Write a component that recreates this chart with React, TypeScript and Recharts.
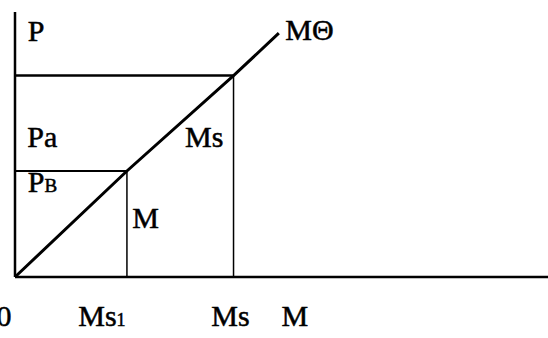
import { ComposedChart, Line, XAxis, YAxis, ReferenceLine, ReferenceDot } from "recharts";

// money supply line M0 (points along the straight line)
const lineM = [0, 21, 41, 49.5];
const lineP = [0, 40, 76, 92];

const ms1 = 21;
const ms = 41;
const pb = 40;
const pa = 76;

const axisTicks = [0, 21, 41, 52.5];
const axisLabels = ["0", "Ms1", "Ms", "M"];

const data = lineM.map((m, i) => ({ m, p: lineP[i] }));

const serif = "'Times New Roman', 'Liberation Serif', 'DejaVu Serif', serif";
const tickShift = [-11, -25, -3, 0];

function AxisTick(props: any) {
  const { x, y, payload } = props;
  const i = axisTicks.indexOf(payload.value);
  const label = axisLabels[i];
  return (
    <text x={x + tickShift[i]} y={y + 41} textAnchor="middle" fontFamily={serif} fontSize={30} fill="#000" stroke="#000" strokeWidth={0.5}>
      {label === "Ms1" ? (
        <>
          Ms<tspan fontSize={18}>1</tspan>
        </>
      ) : (
        label
      )}
    </text>
  );
}

const textAt = (content: any) => (p: any) => (
  <text x={p.cx} y={p.cy} fontFamily={serif} fontSize={30} fill="#000" stroke="#000" strokeWidth={0.5}>
    {content}
  </text>
);

export default function App() {
  return (
    <div style={{ position: "absolute", left: 0, top: 0 }}>
      <ComposedChart width={548} height={338} data={data} margin={{ top: 12, right: 0, left: 0, bottom: 0 }}>
        <XAxis
          dataKey="m"
          type="number"
          domain={[0, 100]}
          ticks={axisTicks}
          interval={0}
          tickLine={false}
          tick={<AxisTick />}
          height={61}
          axisLine={{ stroke: "#000", strokeWidth: 2.5 }}
        />
        <YAxis type="number" domain={[0, 100]} tick={false} tickLine={false} width={15} axisLine={{ stroke: "#000", strokeWidth: 2.5 }} />
        <ReferenceLine segment={[{ x: 0, y: pa }, { x: ms, y: pa }]} stroke="#000" strokeWidth={2.5} />
        <ReferenceLine segment={[{ x: ms, y: 0 }, { x: ms, y: pa }]} stroke="#000" strokeWidth={1.5} />
        <ReferenceLine segment={[{ x: 0, y: pb }, { x: ms1, y: pb }]} stroke="#000" strokeWidth={2} />
        <ReferenceLine segment={[{ x: ms1, y: 0 }, { x: ms1, y: pb }]} stroke="#000" strokeWidth={1.5} />
        <Line type="linear" dataKey="p" stroke="#000" strokeWidth={3} dot={false} isAnimationActive={false} />
        <ReferenceDot x={2.4} y={89} shape={textAt("P")} />
        <ReferenceDot x={50.7} y={89.4} shape={textAt("MΘ")} />
        <ReferenceDot x={2.3} y={49} shape={textAt("Pa")} />
        <ReferenceDot x={31.9} y={49} shape={textAt("Ms")} />
        <ReferenceDot x={2.4} y={32} shape={textAt(<>P<tspan fontSize={19}>B</tspan></>)} />
        <ReferenceDot x={22} y={18.5} shape={textAt("M")} />
      </ComposedChart>
    </div>
  );
}
